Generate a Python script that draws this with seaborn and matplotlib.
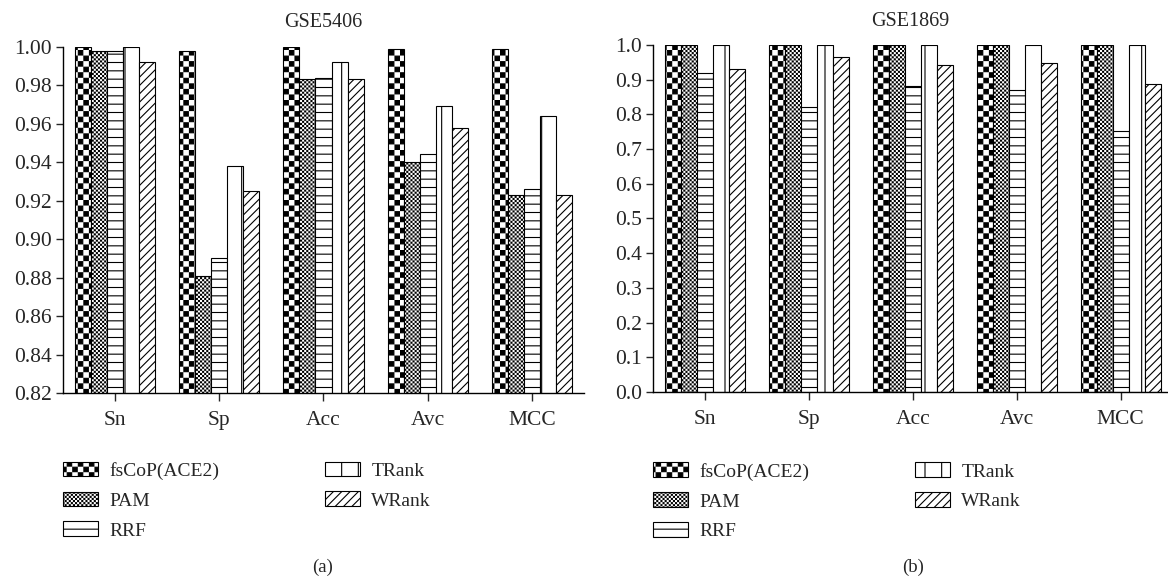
import warnings
import numpy as np
import pandas as pd
import seaborn as sns
import matplotlib.pyplot as plt
import matplotlib.hatch as mhatch
from matplotlib.path import Path
from matplotlib.patches import Patch

warnings.filterwarnings("ignore")

# ---------------------
# data
# ---------------------
metrics = ["Sn", "Sp", "Acc", "Avc", "MCC"]
methods = ["fsCoP(ACE2)", "PAM", "RRF", "TRank", "WRank"]

# GSE5406, one list per method (Sn, Sp, Acc, Avc, MCC)
gse5406_fscop = [1.000, 0.998, 1.000, 0.999, 0.999]
gse5406_pam = [0.998, 0.881, 0.983, 0.940, 0.923]
gse5406_rrf = [0.998, 0.890, 0.984, 0.944, 0.926]
gse5406_trank = [1.000, 0.938, 0.992, 0.969, 0.964]
gse5406_wrank = [0.992, 0.925, 0.983, 0.958, 0.923]

# GSE1869
gse1869_fscop = [1.000, 1.000, 1.000, 1.000, 1.000]
gse1869_pam = [1.000, 1.000, 1.000, 1.000, 1.000]
gse1869_rrf = [0.920, 0.820, 0.882, 0.870, 0.752]
gse1869_trank = [1.000, 1.000, 1.000, 1.000, 1.000]
gse1869_wrank = [0.930, 0.965, 0.942, 0.947, 0.887]

HATCH_LW = 0.8  # points


# checkerboard hatch ('c'), not built into matplotlib
class CheckerHatch(mhatch.HatchPatternBase):
    def __init__(self, hatch, density):
        self.n = int(hatch.count("c") * density)
        self.num_vertices = (self.n * self.n // 2) * 5

    def set_vertices_and_codes(self, vertices, codes):
        n = self.n
        s = 1.0 / n
        pad = HATCH_LW / 144.0
        k = 0
        for i in range(n):
            for j in range(n):
                if (i + j) % 2:
                    continue
                x0, y0 = i * s + pad, j * s + pad
                x1, y1 = (i + 1) * s - pad, (j + 1) * s - pad
                vertices[k:k + 5] = [(x0, y0), (x1, y0), (x1, y1), (x0, y1), (x0, y0)]
                codes[k:k + 5] = [Path.MOVETO, Path.LINETO, Path.LINETO,
                                  Path.LINETO, Path.CLOSEPOLY]
                k += 5


mhatch._hatch_types.append(CheckerHatch)

hatches = ["ccc", "cccccccc", "--", "|", "////"]


def to_long(series):
    rows = []
    for method, vals in zip(methods, series):
        for m, v in zip(metrics, vals):
            rows.append({"metric": m, "method": method, "value": v})
    return pd.DataFrame(rows)


df_a = to_long([gse5406_fscop, gse5406_pam, gse5406_rrf, gse5406_trank, gse5406_wrank])
df_b = to_long([gse1869_fscop, gse1869_pam, gse1869_rrf, gse1869_trank, gse1869_wrank])

# ---------------------
# style
# ---------------------
sns.set_style("ticks")
plt.rcParams["font.family"] = ["Liberation Serif", "DejaVu Serif"]
plt.rcParams["hatch.linewidth"] = HATCH_LW
plt.rcParams["hatch.color"] = "black"
plt.rcParams["axes.edgecolor"] = "black"
plt.rcParams["axes.linewidth"] = 1.0

FS = 14
TICK_FS = 15.5

fig = plt.figure(figsize=(11.68, 5.82), dpi=100)
ax_a = fig.add_axes([0.0539, 0.3247, 0.4461, 0.5950])
ax_b = fig.add_axes([0.5591, 0.3265, 0.4409, 0.5962])


def draw(ax, df, title, ylim, yticks, fmt, xmax, legend_y):
    sns.barplot(data=df, x="metric", y="value", hue="method",
                order=metrics, hue_order=methods, width=0.77,
                palette=["white"] * 5, saturation=1, edgecolor="black",
                linewidth=0.8, errorbar=None, legend=False, ax=ax)
    for cont, h in zip(ax.containers, hatches):
        for bar in cont:
            bar.set_hatch(h)
    ax.set_ylim(*ylim)
    ax.set_xlim(-0.5, xmax)
    ax.set_yticks(yticks)
    ax.set_yticklabels([fmt % t for t in yticks], fontsize=TICK_FS)
    ax.tick_params(axis="x", labelsize=TICK_FS, length=6, width=1, pad=7)
    ax.tick_params(axis="y", length=5, width=1, pad=3)
    ax.set_xlabel("")
    ax.set_ylabel("")
    ax.set_title(title, fontsize=14.5, pad=14)
    sns.despine(ax=ax)

    handles = [Patch(facecolor="white", edgecolor="black", linewidth=0.8, hatch=h)
               for h in hatches]
    ax.legend(handles, methods, loc="upper left", bbox_to_anchor=(0.0, legend_y),
              ncol=2, frameon=False, fontsize=FS, borderpad=0, borderaxespad=0,
              handlelength=1.8, handleheight=0.8, handletextpad=0.6,
              columnspacing=5.4, labelspacing=0.6)


draw(ax_a, df_a, "GSE5406", (0.82, 1.00), np.arange(0.82, 1.001, 0.02), "%.2f", 4.5, -0.198)
draw(ax_b, df_b, "GSE1869", (0.0, 1.0), np.arange(0.0, 1.001, 0.1), "%.1f", 4.455, -0.203)

fig.text(0.2765, 0.026, "(a)", ha="center", va="center", fontsize=13.5)
fig.text(0.7815, 0.026, "(b)", ha="center", va="center", fontsize=13.5)

fig.savefig("out.png", dpi=100)
